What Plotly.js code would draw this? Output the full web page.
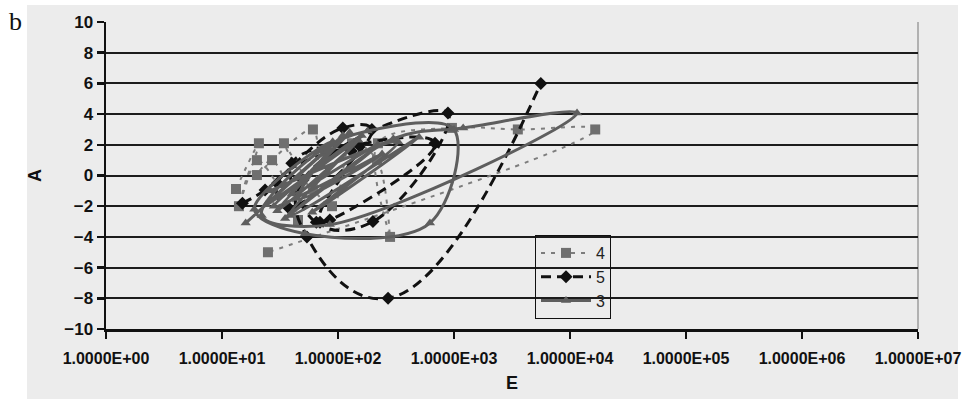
<!DOCTYPE html>
<html>
<head>
<meta charset="utf-8">
<script src="https://cdn.plot.ly/plotly-3.0.1.min.js"></script>
<style>
  html, body { margin: 0; padding: 0; background: #ffffff; }
  #chart { width: 962px; height: 399px; }
</style>
</head>
<body>
<div id="chart"></div>
<script>
// Series "4" – dotted grey line with square markers
const s4_E = [13.2, 20.8, 14.0, 20.0, 45.2, 27.0, 20.0, 60.8, 60.8, 34.2, 88.8, 132, 217, 281, 221, 960, 3550, 16500, 24.9];
const s4_A = [-0.88, 2.1, -2.0, 1.0, -2.9, 1.0, 0.03, 3.0, -0.9, 2.1, -2.0, 2.1, 1.0, -4.0, 2.1, 3.1, 3.0, 3.0, -5.0];

// Series "5" – heavy black dashed line with diamond markers
const s5_E = [15.0, 23.5, 110, 196, 37.0, 30.0, 150, 686, 85.0, 65.0, 40.0, 130, 70.0, 200, 887, 50.0, 54.0, 270, 5600];
const s5_A = [-1.8, -0.95, 3.1, 3.0, -2.05, -0.5, 2.0, 2.1, -2.9, -3.05, 0.8, 1.6, -3.05, -3.0, 4.07, -0.3, -4.0, -8.0, 6.0];

// Series "3" – solid grey line with triangle markers
const s3_E = [16.0, 110, 24.0, 150, 30.0, 126, 40.0, 220, 35.0, 300, 1200, 11500, 85.0, 22.0, 70.0, 180, 1000, 620, 52.0, 19.0, 90.0, 45.0, 240, 28.0, 160, 38.0, 500, 60.0, 330, 26.0];
const s3_A = [-3.1, 2.6, -1.9, 2.3, -2.3, 2.8, -1.2, 2.0, -2.8, 2.4, 3.1, 4.07, -3.2, -2.6, 1.6, 2.9, 3.0, -3.1, -3.8, -2.2, 2.2, -1.5, 1.4, -2.0, 2.6, -2.6, 2.5, -2.4, 2.2, -1.0];

const seriesNames = ['4', '5', '3'];
const yTicks = [-10, -8, -6, -4, -2, 0, 2, 4, 6, 8, 10];
const xTickVals = [1, 10, 100, 1000, 10000, 100000, 1000000, 10000000];
const xTickText = ['1.0000E+00', '1.0000E+01', '1.0000E+02', '1.0000E+03',
                   '1.0000E+04', '1.0000E+05', '1.0000E+06', '1.0000E+07'];

// Canvas geometry (pixels) used to place the framing panel and panel label
const W = 962, H = 399;
const M = { l: 106, r: 44, t: 22, b: 70 };
const plotW = W - M.l - M.r, plotH = H - M.t - M.b;
const px2x = p => (p - M.l) / plotW;
const px2y = p => (H - M.b - p) / plotH;

const FONT = '"Liberation Sans", Arial, sans-serif';

const traces = [
  {
    name: seriesNames[0], x: s4_E, y: s4_A, type: 'scatter', mode: 'lines+markers',
    line: { shape: 'spline', smoothing: 1, color: '#7d7d7d', width: 2, dash: '4px,6px' },
    marker: { symbol: 'square', size: 10, color: '#6f6f6f' }
  },
  {
    name: seriesNames[1], x: s5_E, y: s5_A, type: 'scatter', mode: 'lines+markers',
    line: { shape: 'spline', smoothing: 1.3, color: '#111111', width: 3, dash: '10px,6px' },
    marker: { symbol: 'diamond', size: 10, color: '#111111' }
  },
  {
    name: seriesNames[2], x: s3_E, y: s3_A, type: 'scatter', mode: 'lines+markers',
    line: { shape: 'spline', smoothing: 1, color: '#5e5e5e', width: 3 },
    marker: { symbol: 'triangle-up', size: 9, color: '#5e5e5e' }
  }
];

const layout = {
  width: W, height: H,
  margin: M,
  paper_bgcolor: '#ffffff',
  plot_bgcolor: 'rgba(0,0,0,0)',
  font: { family: FONT, color: '#111111' },
  showlegend: true,
  legend: {
    x: px2x(535), y: px2y(235), xanchor: 'left', yanchor: 'top',
    bgcolor: 'rgba(0,0,0,0)', bordercolor: '#111111', borderwidth: 1,
    font: { family: FONT, size: 16, color: '#222222' },
    itemwidth: 50,
    traceorder: 'normal'
  },
  xaxis: {
    type: 'log', range: [0, 7],
    tickmode: 'array', tickvals: xTickVals, ticktext: xTickText,
    showgrid: false, zeroline: false,
    showline: true, linecolor: '#111111', linewidth: 2.5,
    ticks: 'outside', ticklen: 7, tickwidth: 2.5, tickcolor: '#111111',
    ticklabelstandoff: 6,
    tickfont: { family: FONT, size: 16, weight: 'bold', color: '#111111' },
    title: { text: 'E', font: { family: FONT, size: 18, weight: 'bold', color: '#111111' }, standoff: 11 }
  },
  yaxis: {
    range: [-10, 10], tickmode: 'array', tickvals: yTicks,
    showgrid: true, gridcolor: '#1c1c1c', gridwidth: 2,
    zeroline: false,
    showline: true, linecolor: '#111111', linewidth: 2.5,
    ticks: 'outside', ticklen: 7, tickwidth: 2.5, tickcolor: '#111111',
    tickfont: { family: FONT, size: 17, weight: 'bold', color: '#111111' },
    title: { text: 'A', font: { family: FONT, size: 18, weight: 'bold', color: '#111111' }, standoff: 18 }
  },
  shapes: [
    // light grey chart panel
    { type: 'rect', xref: 'paper', yref: 'paper', layer: 'below',
      x0: px2x(27), x1: px2x(958), y0: px2y(399), y1: px2y(5),
      fillcolor: '#ececec', line: { width: 0 } },
    // thin right-hand border of the plotting area
    { type: 'line', xref: 'paper', yref: 'paper', layer: 'below',
      x0: 1, x1: 1, y0: 0, y1: 1, line: { color: '#8a8a8a', width: 1.2 } }
  ],
  annotations: [
    { text: 'b', xref: 'paper', yref: 'paper', x: px2x(15), y: px2y(21),
      xanchor: 'center', yanchor: 'middle', showarrow: false,
      font: { family: '"Liberation Serif", "DejaVu Serif", serif', size: 26, color: '#111111' } }
  ]
};

Plotly.newPlot('chart', traces, layout, { displayModeBar: false, staticPlot: true });
</script>
</body>
</html>
